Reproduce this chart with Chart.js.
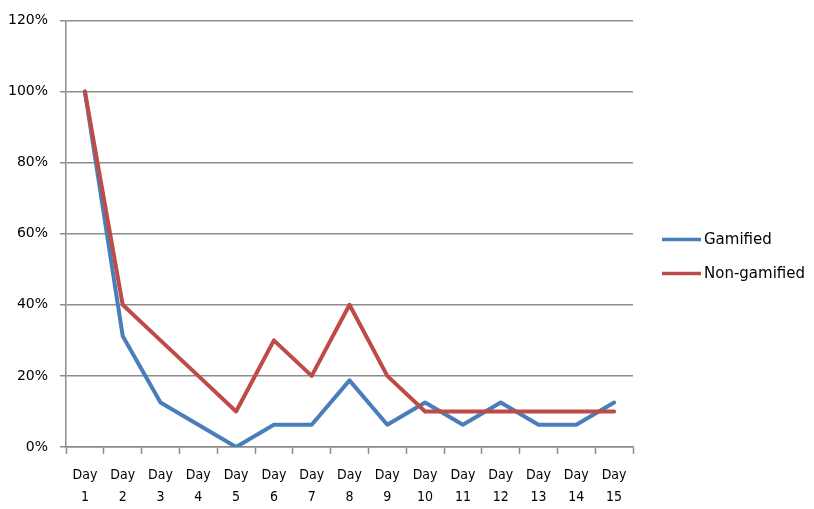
<!DOCTYPE html>
<html>
<head>
<meta charset="utf-8">
<title>Gamified vs Non-gamified</title>
<script src="https://cdn.jsdelivr.net/npm/chart.js@4/dist/chart.umd.min.js"></script>
<style>
  html, body { margin: 0; padding: 0; background: #ffffff; }
  #wrap { width: 814px; height: 509px; position: relative; }
</style>
</head>
<body>
<div id="wrap"><canvas id="chart" width="814" height="509"></canvas></div>
<script>
// Categories: one per day, drawn as two-line labels ("Day" / number)
const days = ['1','2','3','4','5','6','7','8','9','10','11','12','13','14','15'];
const dayLabels = days.map(d => ['Day', d]);

// Share of users still active each day (%)
const gamified    = [100, 31.25, 12.5, 6.25, 0, 6.25, 6.25, 18.75, 6.25, 12.5, 6.25, 12.5, 6.25, 6.25, 12.5];
const nonGamified = [100, 40, 30, 20, 10, 30, 20, 40, 20, 10, 10, 10, 10, 10, 10];

// Value axis ticks
const yTicks = [0, 20, 40, 60, 80, 100, 120];

const seriesNames  = ['Gamified', 'Non-gamified'];
const seriesColors = ['#4A7EBB', '#BE4B48'];

const gridColor = '#8C8C8C';
const textColor = '#000000';

// Legend drawn to the right of the plot, vertically centred on the canvas
const sideLegend = {
  id: 'sideLegend',
  afterDraw(chart) {
    const ctx = chart.ctx;
    const area = chart.chartArea;
    const x0 = area.right + 29;
    const lineLen = 39;
    const gap = 34;
    const midY = chart.height / 2 + 2;
    const items = chart.data.datasets;
    ctx.save();
    ctx.font = '15px "DejaVu Sans"';
    ctx.textBaseline = 'middle';
    ctx.textAlign = 'left';
    items.forEach((ds, i) => {
      const y = midY + (i - (items.length - 1) / 2) * gap;
      ctx.strokeStyle = ds.borderColor;
      ctx.lineWidth = 3.5;
      ctx.lineCap = 'butt';
      ctx.beginPath();
      ctx.moveTo(x0, y);
      ctx.lineTo(x0 + lineLen, y);
      ctx.stroke();
      ctx.fillStyle = textColor;
      ctx.fillText(ds.label, x0 + lineLen + 3, y + 1);
    });
    ctx.restore();
  }
};

new Chart(document.getElementById('chart'), {
  type: 'line',
  data: {
    labels: dayLabels,
    datasets: [
      {
        label: seriesNames[0],
        data: gamified,
        borderColor: seriesColors[0],
        backgroundColor: seriesColors[0],
        borderWidth: 4,
        pointRadius: 0,
        tension: 0,
        borderJoinStyle: 'round',
        borderCapStyle: 'round',
        order: 2
      },
      {
        label: seriesNames[1],
        data: nonGamified,
        borderColor: seriesColors[1],
        backgroundColor: seriesColors[1],
        borderWidth: 4,
        pointRadius: 0,
        tension: 0,
        borderJoinStyle: 'round',
        borderCapStyle: 'round',
        order: 1
      }
    ]
  },
  options: {
    responsive: false,
    animation: false,
    events: [],
    layout: { padding: { top: 12, right: 181, left: 0, bottom: 0 } },
    plugins: {
      legend: { display: false },
      tooltip: { enabled: false },
      title: { display: false }
    },
    scales: {
      x: {
        type: 'category',
        offset: true,
        grid: {
          offset: true,
          drawOnChartArea: false,
          drawTicks: true,
          tickLength: 7,
          tickColor: gridColor,
          tickWidth: 1.5
        },
        border: { display: true, color: gridColor, width: 1.5 },
        ticks: {
          color: textColor,
          font: { family: '"DejaVu Sans Condensed", "DejaVu Sans"', size: 14, lineHeight: 1.6 },
          padding: 10,
          maxRotation: 0,
          autoSkip: false
        },
        afterFit(scale) { scale.height = 62; }
      },
      y: {
        min: 0,
        max: 120,
        afterBuildTicks(scale) { scale.ticks = yTicks.map(v => ({ value: v })); },
        grid: {
          color: gridColor,
          lineWidth: 1.5,
          drawTicks: true,
          tickLength: 6,
          tickColor: gridColor
        },
        border: { display: true, color: gridColor, width: 1.5 },
        ticks: {
          color: textColor,
          font: { family: '"DejaVu Sans"', size: 14 },
          padding: 12,
          callback: v => v + '%'
        },
        afterFit(scale) { scale.width = 66; }
      }
    }
  },
  plugins: [sideLegend]
});
</script>
</body>
</html>
